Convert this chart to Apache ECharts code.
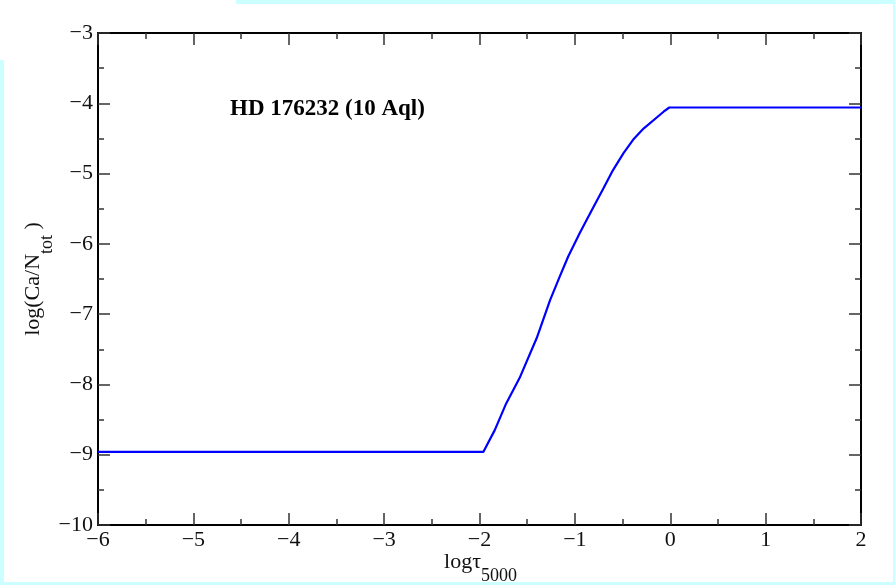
<!DOCTYPE html>
<html>
<head>
<meta charset="utf-8">
<script src="https://cdn.jsdelivr.net/npm/echarts@6/dist/echarts.min.js"></script>
<style>
  html, body { margin: 0; padding: 0; }
  body { width: 895px; height: 585px; background: #ccffff; position: relative; overflow: hidden; }
  .paper { position: absolute; background: #fff; }
  #chart { position: absolute; left: 0; top: 0; width: 895px; height: 585px; }
</style>
</head>
<body>
<div class="paper" style="left:4px;top:4px;width:889px;height:578px"></div>
<div class="paper" style="left:0;top:0;width:236px;height:4px"></div>
<div class="paper" style="left:0;top:0;width:4px;height:60px"></div>
<div id="chart"></div>
<script>
// log tau_5000 vs log(Ca/N_tot)
const logTau = [-6, -1.96, -1.84, -1.72, -1.58, -1.40, -1.26, -1.16, -1.07, -0.95, -0.83, -0.70, -0.60, -0.49, -0.39, -0.28, -0.07, -0.01, 2]
const logCa = [-8.96, -8.96, -8.65, -8.27, -7.91, -7.34, -6.80, -6.47, -6.18, -5.85, -5.54, -5.21, -4.95, -4.71, -4.52, -4.36, -4.12, -4.06, -4.06]

const xRange = [-6, 2]
const yRange = [-10, -3]
const title = 'HD 176232 (10 Aql)'

const serif = '"Liberation Serif", "DejaVu Serif", serif'
const minus = v => (v < 0 ? '\u2212' + Math.abs(v) : String(v))

function axis(type, pos, showLabel, extra) {
  return Object.assign({
    type: 'value',
    position: pos,
    min: type == 'x' ? xRange[0] : yRange[0],
    max: type == 'x' ? xRange[1] : yRange[1],
    interval: 1,
    splitLine: { show: false },
    axisLine: { show: true, onZero: false, lineStyle: { color: '#000', width: 2 } },
    axisTick: { show: true, inside: true, length: 12, lineStyle: { color: '#333', width: 1.5 } },
    minorTick: { show: true, splitNumber: 2, length: 6, lineStyle: { color: '#333', width: 1.5 } },
    axisLabel: { show: showLabel },
  }, extra)
}

const nameRich = {
  m: { fontFamily: serif, fontSize: 22, color: '#111', lineHeight: 34, verticalAlign: 'top' },
  s: { fontFamily: serif, fontSize: 18, color: '#111', lineHeight: 10, verticalAlign: 'bottom' },
}

const chart = echarts.init(document.getElementById('chart'))
chart.setOption({
  animation: false,
  title: {
    text: title,
    left: 230,
    top: 98,
    padding: 0,
    textStyle: { fontFamily: serif, fontWeight: 'bold', fontSize: 23, color: '#000' },
  },
  grid: { left: 98, right: 34, top: 33, bottom: 60, outerBoundsMode: 'none' },
  xAxis: [
    axis('x', 'bottom', true, {
      name: '{m|log\u03c4}{s|5000}',
      nameLocation: 'middle',
      nameGap: 26,
      nameMoveOverlap: false,
      nameTextStyle: { padding: [0, 0, 0, 2], rich: nameRich },
      axisLabel: { formatter: minus, fontFamily: serif, fontSize: 22, color: '#111', margin: 4 },
    }),
    axis('x', 'top', false),
  ],
  yAxis: [
    axis('y', 'left', true, {
      name: '{m|log(Ca/N}{s|tot}{m| )}',
      nameLocation: 'middle',
      nameRotate: 90,
      nameGap: 42,
      nameMoveOverlap: false,
      nameTextStyle: { rich: nameRich },
      axisLabel: { formatter: minus, fontFamily: serif, fontSize: 22, color: '#111', margin: 5, padding: [8, 0, 0, 0] },
    }),
    axis('y', 'right', false),
  ],
  series: [
    {
      type: 'line',
      data: logTau.map((x, i) => [x, logCa[i]]),
      showSymbol: false,
      lineStyle: { color: '#0000ff', width: 2.2 },
      itemStyle: { color: '#0000ff' },
    },
  ],
})
</script>
</body>
</html>
